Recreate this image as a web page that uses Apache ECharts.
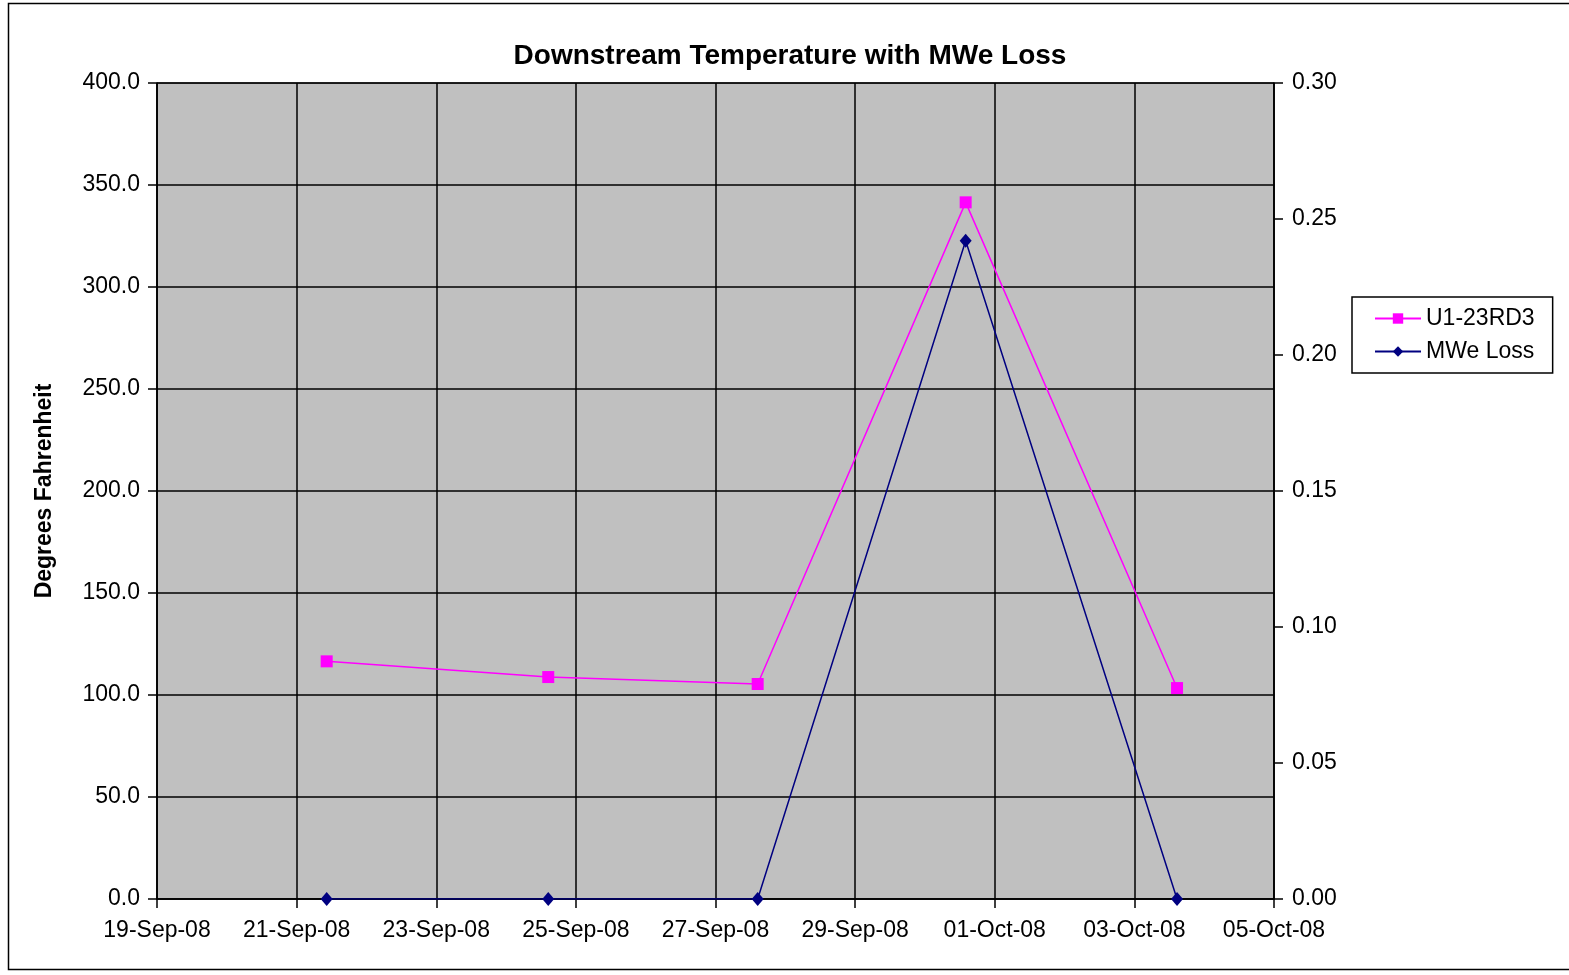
<!DOCTYPE html>
<html><head><meta charset="utf-8">
<script src="https://cdn.jsdelivr.net/npm/echarts@6/dist/echarts.min.js"></script>
<style>html,body{margin:0;padding:0;background:#fff}#c{width:1569px;height:975px}</style>
</head><body><div id="c"></div>
<script>
// Data
const sampleTimes = ['2008-09-21T10:20', '2008-09-24T14:30', '2008-09-27T14:30', '2008-09-30T14:00', '2008-10-03T14:40'];
const tempU1 = [116.5, 108.8, 105.4, 341.5, 103.4];
const mweLoss = [0, 0, 0, 0.242, 0];
const xMin = '2008-09-19T00:00';
const xMax = '2008-10-05T00:00';
const months = ['Jan','Feb','Mar','Apr','May','Jun','Jul','Aug','Sep','Oct','Nov','Dec'];

function ts(s){ const [d,t]=s.split('T'); const [y,m,dd]=d.split('-').map(Number); const [hh,mm]=t.split(':').map(Number); return Date.UTC(y,m-1,dd,hh,mm); }
function fmt(v){ const d=new Date(v); return String(d.getUTCDate()).padStart(2,'0')+'-'+months[d.getUTCMonth()]+'-'+String(d.getUTCFullYear()%100).padStart(2,'0'); }
const DAY = 86400000;

const chart = echarts.init(document.getElementById('c'), null, {renderer:'canvas'});
const font = 'Arial, "Liberation Sans", sans-serif';
chart.setOption({
  animation:false,
  backgroundColor:'#fff',
  title:{text:'Downstream Temperature with MWe Loss', left:785, top:37, textAlign:'center',
    textStyle:{fontFamily:font, fontSize:28, fontWeight:'bold', color:'#000'}},
  graphic:[{type:'rect', shape:{x:8.5,y:3.5,width:1600,height:966}, style:{fill:null, stroke:'#000', lineWidth:1.5}, silent:true, z:-10}],
  grid:{left:157, right:295, top:83, bottom:76, show:true, backgroundColor:'#C0C0C0', borderColor:'#000', borderWidth:1},
  legend:{orient:'vertical', left:1352, top:297, width:209, padding:[10,18,10,22], itemGap:10,
    borderColor:'#000', borderWidth:1.5, backgroundColor:'#fff', itemWidth:46, itemHeight:13,
    textStyle:{fontFamily:font, fontSize:23, color:'#000'},
    data:['U1-23RD3','MWe Loss']},
  xAxis:{type:'value', min:ts(xMin), max:ts(xMax), interval:2*DAY,
    axisLine:{show:true, lineStyle:{color:'#000', width:1.5}},
    axisTick:{show:true, inside:false, length:9, lineStyle:{color:'#000', width:1.5}},
    axisLabel:{formatter:fmt, fontFamily:font, fontSize:23, color:'#000', margin:20, showMinLabel:true, showMaxLabel:true},
    splitLine:{show:true, lineStyle:{color:'#000', width:1.5}}},
  yAxis:[
    {type:'value', min:0, max:400, interval:50, name:'Degrees Fahrenheit', nameLocation:'middle', nameGap:101, nameRotate:90,
      nameTextStyle:{fontFamily:font, fontSize:23, fontWeight:'bold', color:'#000'},
      axisLine:{show:true, lineStyle:{color:'#000', width:1.5}},
      axisTick:{show:true, length:9, lineStyle:{color:'#000', width:1.5}},
      axisLabel:{formatter:v=>v.toFixed(1), fontFamily:font, fontSize:23, color:'#000', margin:17},
      splitLine:{show:true, lineStyle:{color:'#000', width:1.5}}},
    {type:'value', min:0, max:0.3, interval:0.05, position:'right',
      axisLine:{show:true, lineStyle:{color:'#000', width:1.5}},
      axisTick:{show:true, length:9, lineStyle:{color:'#000', width:1.5}},
      axisLabel:{formatter:v=>v.toFixed(2), fontFamily:font, fontSize:23, color:'#000', margin:18},
      splitLine:{show:false}}
  ],
  series:[
    {name:'U1-23RD3', type:'line', yAxisIndex:0, data:sampleTimes.map((t,i)=>[ts(t), tempU1[i]]),
      symbol:'rect', symbolSize:12, lineStyle:{color:'#FF00FF', width:1.5}, itemStyle:{color:'#FF00FF'}, z:3},
    {name:'MWe Loss', type:'line', yAxisIndex:1, data:sampleTimes.map((t,i)=>[ts(t), mweLoss[i]]),
      symbol:'diamond', symbolSize:[12,14], lineStyle:{color:'#000080', width:1.5}, itemStyle:{color:'#000080'}, z:4}
  ]
});
</script></body></html>
